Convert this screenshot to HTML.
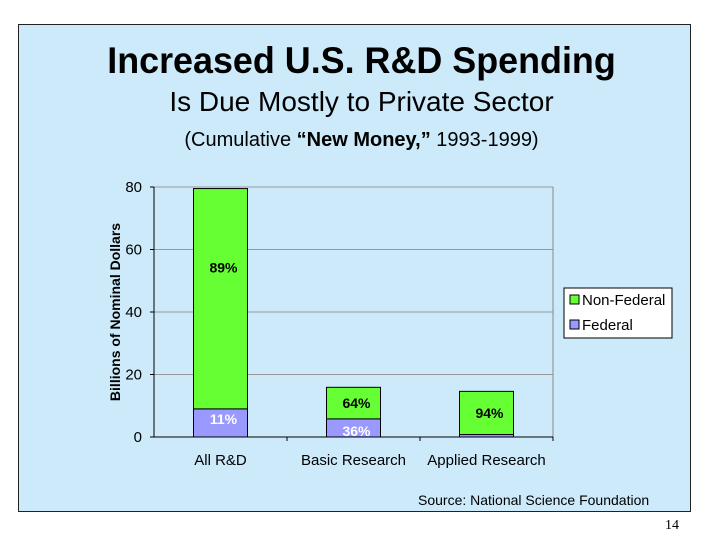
<!DOCTYPE html>
<html><head><meta charset="utf-8"><style>
body{margin:0;width:720px;height:540px;background:#fff;overflow:hidden;font-family:"Liberation Sans",sans-serif}
#panel{position:absolute;left:18px;top:24px;width:671px;height:486px;background:#cdeafb;border:1px solid #222}
.t{position:absolute;left:7px;width:100%;text-align:center;color:#000;white-space:nowrap}
</style></head><body>
<div id="panel">
<div class="t" style="top:15px;font-size:37px;font-weight:bold;transform:scaleX(0.97)">Increased U.S. R&amp;D Spending</div>
<div class="t" style="top:61px;font-size:28px">Is Due Mostly to Private Sector</div>
<div class="t" style="top:104px;font-size:20px">(Cumulative <b>“New Money,”</b> 1993-1999)</div>
</div>
<svg id="chart" width="720" height="540" style="position:absolute;left:0;top:0"></svg>
<div style="position:absolute;left:665px;top:518px;font-family:'Liberation Serif',serif;font-size:14px">14</div>
<script>
const categories=["All R&D","Basic Research","Applied Research"];
const federal=[9,5.8,0.8];
const nonFederal=[70.5,10.1,13.8];
const fedLabels=["11%","36%",""];
const nonFedLabels=["89%","64%","94%"];
const yTicks=[0,20,40,60,80];
const NS="http://www.w3.org/2000/svg";
const svg=document.getElementById('chart');
const x0=154,x1=553,y0=437,y1=187,yMax=80;
const y=v=>y0-(v/yMax)*(y0-y1);
const bw=(x1-x0)/categories.length;
function el(t,a,txt){const e=document.createElementNS(NS,t);for(const k in a)e.setAttribute(k,a[k]);if(txt!==undefined)e.textContent=txt;svg.appendChild(e);return e;}
yTicks.forEach(v=>{
  if(v>0){const g=el('line',{x1:x0,x2:x1,y1:y(v),y2:y(v),stroke:'#999','stroke-width':1});
  }
  const tk=el('line',{x1:x0-4,x2:x0,y1:y(v),y2:y(v),stroke:'#000'});
  
  const l=el('text',{x:x0-12,y:y(v)+5,'text-anchor':'end','font-size':15,fill:'#000'},String(v));
  
});
const rb=el('line',{x1:x1,x2:x1,y1:y1,y2:y0,stroke:'#888'});

const ya=el('line',{x1:x0,x2:x0,y1:y1,y2:y0,stroke:'#000'});

const xa=el('line',{x1:x0,x2:x1,y1:y0,y2:y0,stroke:'#000'});

categories.forEach((c,i)=>{
  const cx=x0+bw*(i+0.5),w=54;
  const tk=el('line',{x1:x0+bw*(i+1),x2:x0+bw*(i+1),y1:y0,y2:y0+4,stroke:'#000'});
  
  const f=el('rect',{x:cx-w/2,y:y(federal[i]),width:w,height:y0-y(federal[i]),fill:'#9999ff',stroke:'#000','stroke-width':1});
  
  const tot=federal[i]+nonFederal[i];
  const n=el('rect',{x:cx-w/2,y:y(tot),width:w,height:y(federal[i])-y(tot),fill:'#66ff33',stroke:'#000','stroke-width':1});
  
  const nl=el('text',{x:cx+3,y:(y(tot)+y(federal[i]))/2+(i==0?-26:5),'text-anchor':'middle','font-size':14,'font-weight':'bold',fill:'#000'},nonFedLabels[i]);
  
  if(fedLabels[i]){const fl=el('text',{x:cx+3,y:y(federal[i]/2)+(i==1?8:1),'text-anchor':'middle','font-size':14,'font-weight':'bold',fill:'#fff'},fedLabels[i]);
  }
  const xl=el('text',{x:cx,y:y0+28,'text-anchor':'middle','font-size':15,fill:'#000'},c);
  
});
const yt=el('text',{x:0,y:0,transform:'translate(120,312) rotate(-90)','text-anchor':'middle','font-size':14,'font-weight':'bold',fill:'#000'},'Billions of Nominal Dollars');

const lg=el('rect',{x:564,y:288,width:108,height:50,fill:'#fff',stroke:'#000'});

[['Non-Federal','#66ff33',300],['Federal','#9999ff',325]].forEach(([t,c,yy])=>{
  const s=el('rect',{x:570,y:yy-5,width:9,height:9,fill:c,stroke:'#000'});
  
  const l=el('text',{x:582,y:yy+5,'font-size':15,fill:'#000'},t);
  
});
const src=el('text',{x:418,y:505,'font-size':14,fill:'#000'},'Source: National Science Foundation');

</script>
</body></html>
